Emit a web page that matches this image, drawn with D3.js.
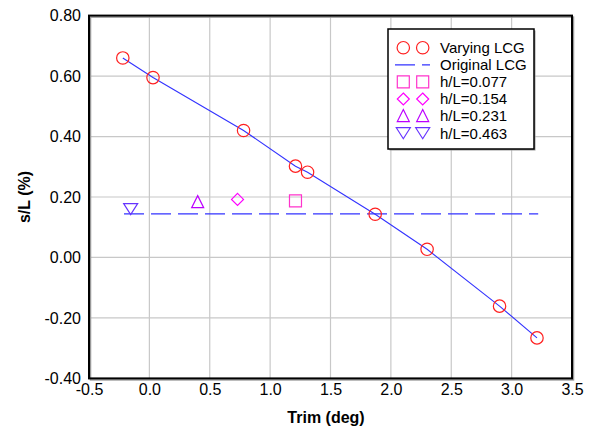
<!DOCTYPE html>
<html><head><meta charset="utf-8">
<script src="https://cdn.jsdelivr.net/npm/d3@7"></script>
<style>body{margin:0;background:#fff}svg{display:block}text{font-family:Arial,"Liberation Sans",sans-serif}</style>
</head><body><svg id="c" width="594" height="432"></svg>
<script>
// Data
const varyingTrim = [-0.22, 0.03, 0.78, 1.21, 1.31, 1.87, 2.30, 2.90, 3.21];
const varyingSL   = [0.66, 0.595, 0.42, 0.302, 0.282, 0.143, 0.027, -0.161, -0.266];
const originalTrim = [-0.21, 3.22];
const originalSL   = [0.144, 0.144];
const hLSeries = [
  {name:"h/L=0.077", trim:1.21, sl:0.187, sym:"square"},
  {name:"h/L=0.154", trim:0.73, sl:0.192, sym:"diamond"},
  {name:"h/L=0.231", trim:0.40, sl:0.183, sym:"triUp"},
  {name:"h/L=0.463", trim:-0.155, sl:0.160, sym:"triDown"}
];
const hLColors = ["#ff33cc","#ff00ff","#bb00ff","#6633ff"];
const xTicks = [-0.5,0,0.5,1,1.5,2,2.5,3,3.5];
const yTicks = [-0.4,-0.2,0,0.2,0.4,0.6,0.8];

const svg = d3.select("#c");
const L=89,R=572,T=15.6,B=378.4;
const x = d3.scaleLinear().domain([-0.5,3.5]).range([L,R]);
const y = d3.scaleLinear().domain([-0.4,0.8]).range([B,T]);

// grid
const g = svg.append("g");
g.selectAll(".gx").data(xTicks.slice(1,-1)).enter().append("line")
 .attr("x1",d=>x(d)).attr("x2",d=>x(d)).attr("y1",T).attr("y2",B)
 .attr("stroke","#c8c8c8").attr("stroke-width",1.2);
g.selectAll(".gy").data(yTicks.slice(1,-1)).enter().append("line")
 .attr("x1",L).attr("x2",R).attr("y1",d=>y(d)).attr("y2",d=>y(d))
 .attr("stroke","#c8c8c8").attr("stroke-width",1.2);

// axes labels via d3 axes
const fx = d=>d.toFixed(1), fy = d=>d.toFixed(2);
const xAxis = d3.axisBottom(x).tickValues(xTicks).tickSize(0).tickPadding(5.5).tickFormat(fx);
const yAxis = d3.axisLeft(y).tickValues(yTicks).tickSize(0).tickPadding(8).tickFormat(fy);
const gx = svg.append("g").attr("transform",`translate(0,${B})`).call(xAxis);
const gy = svg.append("g").attr("transform",`translate(${L},0)`).call(yAxis);
[gx,gy].forEach(a=>{a.attr("font-size",16);a.select(".domain").remove();a.selectAll("text").attr("font-size",16).attr("fill","#000");});

// frame with shadow
svg.append("rect").attr("x",L+1.5).attr("y",T+1.5).attr("width",R-L).attr("height",B-T)
 .attr("fill","none").attr("stroke","#999").attr("stroke-width",1.5);
svg.append("rect").attr("x",L).attr("y",T).attr("width",R-L).attr("height",B-T)
 .attr("fill","none").attr("stroke","#000").attr("stroke-width",2);

// titles
svg.append("text").attr("x",326).attr("y",423).attr("text-anchor","middle")
 .attr("font-size",16).attr("font-weight","bold").text("Trim (deg)");
svg.append("text").attr("transform","translate(29.5,197) rotate(-90)").attr("text-anchor","middle")
 .attr("font-size",16).attr("font-weight","bold").text("s/L (%)");

// original LCG dashed line
const lineGen = d3.line().x(d=>x(d[0])).y(d=>y(d[1]));
svg.append("path").datum(originalTrim.map((t,i)=>[t,originalSL[i]]))
 .attr("d",lineGen).attr("fill","none").attr("stroke","#3333ff").attr("stroke-width",1.2)
 .attr("stroke-dasharray","20,7");

// varying LCG line + circles
const vpts = varyingTrim.map((t,i)=>[t,varyingSL[i]]);
svg.append("path").datum(vpts).attr("d",lineGen).attr("fill","none")
 .attr("stroke","#3333ff").attr("stroke-width",1.1);
svg.selectAll(".vc").data(vpts).enter().append("circle")
 .attr("cx",d=>x(d[0])).attr("cy",d=>y(d[1])).attr("r",6.2)
 .attr("fill","none").attr("stroke","#ff2020").attr("stroke-width",1.2);

function symPath(sym, cx, cy){
  const s=6;
  if(sym==="square") return `M${cx-s},${cy-s}h${2*s}v${2*s}h${-2*s}Z`;
  if(sym==="diamond") return `M${cx},${cy-s}L${cx+s},${cy}L${cx},${cy+s}L${cx-s},${cy}Z`;
  if(sym==="triUp") return `M${cx},${cy-6.5}L${cx+6},${cy+5.5}L${cx-6},${cy+5.5}Z`;
  return `M${cx-7},${cy-5.5}L${cx+7},${cy-5.5}L${cx},${cy+5.5}Z`;
}
svg.selectAll(".hl").data(hLSeries).enter().append("path")
 .attr("d",d=>symPath(d.sym,x(d.trim),y(d.sl)))
 .attr("fill","none").attr("stroke",(d,i)=>hLColors[i]).attr("stroke-width",1.2);

// legend
const lg = svg.append("g");
lg.append("rect").attr("x",389.5).attr("y",30.5).attr("width",146).attr("height",120).attr("fill","#999");
lg.append("rect").attr("x",388).attr("y",29).attr("width",146).attr("height",120)
 .attr("fill","#fff").attr("stroke","#000").attr("stroke-width",1.5);
const rowY = i=>47.7+i*17.1;
const tx=440, m1=403.3, m2=422.7;
lg.append("circle").attr("cx",m1).attr("cy",rowY(0)).attr("r",6.2).attr("fill","none").attr("stroke","#ff2020").attr("stroke-width",1.2);
lg.append("circle").attr("cx",m2).attr("cy",rowY(0)).attr("r",6.2).attr("fill","none").attr("stroke","#ff2020").attr("stroke-width",1.2);
lg.append("line").attr("x1",395).attr("x2",430).attr("y1",rowY(1)).attr("y2",rowY(1))
 .attr("stroke","#3333ff").attr("stroke-width",1.2).attr("stroke-dasharray","20,7");
const legNames = ["Varying LCG","Original LCG"].concat(hLSeries.map(d=>d.name));
hLSeries.forEach((d,i)=>{
  [m1,m2].forEach(mx=>{
    lg.append("path").attr("d",symPath(d.sym,mx,rowY(i+2))).attr("fill","none")
      .attr("stroke",hLColors[i]).attr("stroke-width",1.2);
  });
});
lg.selectAll(".lt").data(legNames).enter().append("text")
 .attr("x",tx).attr("y",(d,i)=>rowY(i)+5.3).attr("font-size",15).text(d=>d);
</script></body></html>
